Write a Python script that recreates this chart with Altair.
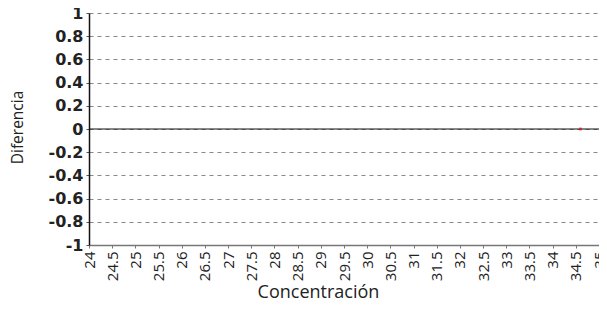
import altair as alt
import pandas as pd

conc = [34.6]
dif = [0.0]
x_ticks = [24 + 0.5 * i for i in range(23)]
y_ticks = [-1, -0.8, -0.6, -0.4, -0.2, 0, 0.2, 0.4, 0.6, 0.8, 1]

df = pd.DataFrame({"Concentración": conc, "Diferencia": dif})

xs = alt.Scale(domain=[24, 35], nice=False, zero=False)
ys = alt.Scale(domain=[-1, 1], nice=False)

x_axis = alt.Axis(values=x_ticks, format="~g", labelAngle=-90, labelAlign="right",
                  labelBaseline="middle", labelFont="Open Sans", labelFontSize=15,
                  labelColor="#222", labelPadding=3, tickSize=3, tickColor="#777",
                  domainColor="#777", domainWidth=1.5, grid=False, title="Concentración",
                  titleFont="Open Sans", titleFontSize=18, titleFontWeight="normal",
                  titleColor="#222", titleX=229, titleY=52, titleAlign="center",
                  titleBaseline="alphabetic", labelOverlap=False)

y_axis = alt.Axis(values=y_ticks, labelExpr="'' + datum.value", labelFont="DejaVu Sans",
                  labelFontSize=16, labelFontWeight="bold", labelColor="#222",
                  labelOverlap=False, tickSize=3, tickColor="#555", domainColor="#111",
                  domainWidth=1.5, grid=True, tickCount=11,
                  gridDash=[4, 4], gridColor="#888", title="Diferencia",
                  titleFont="Open Sans", titleFontSize=15.5, titleFontWeight="normal",
                  titleColor="#222", titleX=-72, titleY=114, titleAlign="center",
                  titleBaseline="middle", titleAngle=270, labelPadding=3)

zero = alt.Chart(pd.DataFrame({"Diferencia": [0.0]})).mark_rule(
    color="#111", strokeWidth=1
).encode(
    y=alt.Y("Diferencia:Q", scale=ys, axis=y_axis)
)

points = alt.Chart(df).mark_square(filled=True, color="#d0203a", size=7, opacity=1).encode(
    x=alt.X("Concentración:Q", scale=xs, axis=x_axis),
    y=alt.Y("Diferencia:Q", scale=ys, axis=y_axis),
)

chart = alt.layer(zero, points).properties(
    width=510, height=232,
    autosize=alt.AutoSizeParams(type="none"),
    padding={"left": 81, "top": 5, "right": 0, "bottom": 57},
).configure(background="white").configure_view(stroke=None)

chart.save("out.html", embed_options={"renderer": "svg", "actions": False})
